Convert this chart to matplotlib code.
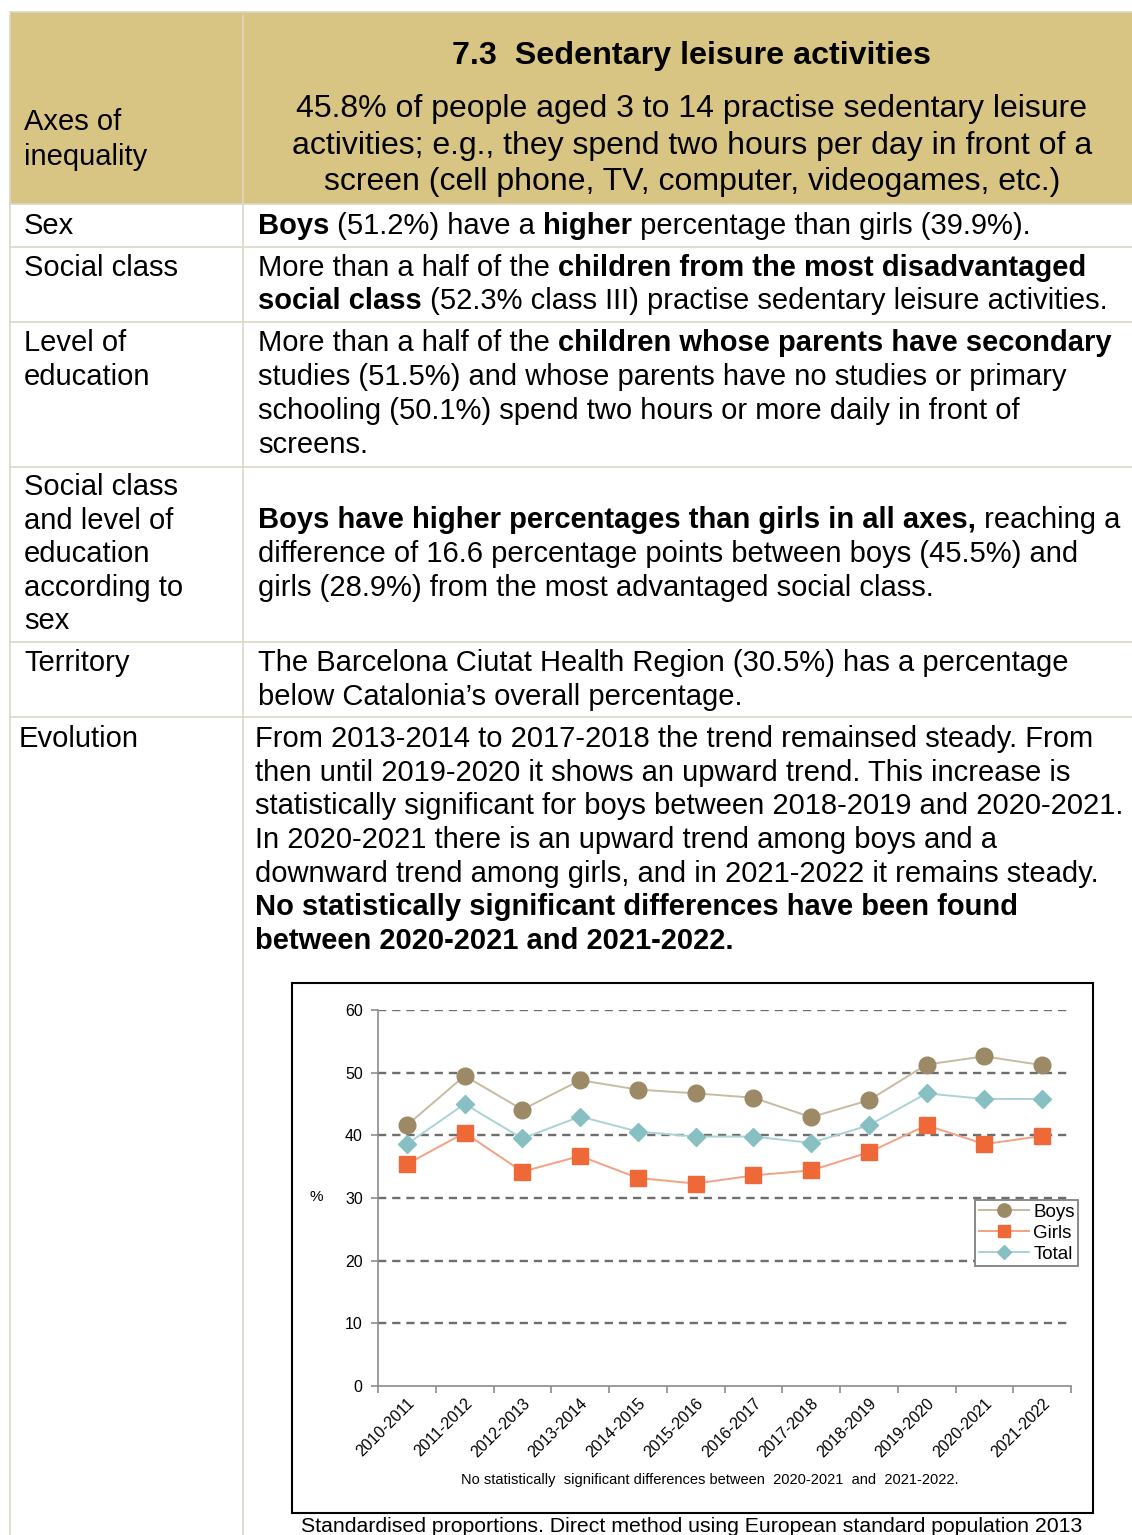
import matplotlib
matplotlib.use("Agg")
import matplotlib.pyplot as plt
from matplotlib.patches import Rectangle
from matplotlib.lines import Line2D
import numpy as np

plt.rcParams['font.family'] = ['Liberation Sans', 'DejaVu Sans']

# chart data
seasons = ['2010-2011', '2011-2012', '2012-2013', '2013-2014', '2014-2015', '2015-2016',
           '2016-2017', '2017-2018', '2018-2019', '2019-2020', '2020-2021', '2021-2022']
boys = [41.6, 49.5, 44.1, 48.8, 47.3, 46.7, 46.0, 42.9, 45.6, 51.3, 52.6, 51.2]
girls = [35.4, 40.4, 34.2, 36.7, 33.2, 32.3, 33.6, 34.4, 37.3, 41.6, 38.6, 39.9]
total = [38.6, 45.0, 39.5, 43.0, 40.6, 39.8, 39.8, 38.8, 41.6, 46.7, 45.8, 45.8]
y_ticks = [0, 10, 20, 30, 40, 50, 60]

W, H = 1132, 1535
TAN = '#D8C483'
RULE = '#DCD8C6'
FS = 21

fig = plt.figure(figsize=(W / 100, H / 100), dpi=100)
renderer = fig.canvas.get_renderer()


def fx(x):
    return x / W


def fy(y):
    return 1 - y / H


def text_width(s, bold, size):
    # measure with bars around so spaces are counted
    t = fig.text(0, 0, '|' + s + '|', fontsize=size, fontweight='bold' if bold else 'normal')
    t2 = fig.text(0, 0, '||', fontsize=size, fontweight='bold' if bold else 'normal')
    w = t.get_window_extent(renderer).width - t2.get_window_extent(renderer).width
    t.remove()
    t2.remove()
    return w


def rich_line(x, y, parts, size=FS):
    cx = x
    for s, bold in parts:
        fig.text(fx(cx), fy(y), s, fontsize=size, fontweight='bold' if bold else 'normal',
                 ha='left', va='center', color='black')
        cx += text_width(s, bold, size)


def plain(x, y, s, size=FS, bold=False, ha='left'):
    fig.text(fx(x), fy(y), s, fontsize=size, fontweight='bold' if bold else 'normal',
             ha=ha, va='center', color='black')


# ---- table frame ----
fig.add_artist(Rectangle((fx(10), fy(204)), (W - 10) / W, 192 / H, transform=fig.transFigure,
                         facecolor=TAN, edgecolor='none', zorder=-2))
fig.add_artist(Line2D([fx(10), 1], [fy(11.5), fy(11.5)], transform=fig.transFigure, color=RULE, lw=1.2))
for yy in [204, 247, 322, 467, 642, 717]:
    fig.add_artist(Line2D([fx(10), 1], [fy(yy), fy(yy)], transform=fig.transFigure, color=RULE, lw=1.2))
fig.add_artist(Line2D([fx(243), fx(243)], [fy(16), fy(H)], transform=fig.transFigure, color=RULE, lw=1.2))
fig.add_artist(Line2D([fx(10), fx(10)], [fy(16), fy(H)], transform=fig.transFigure, color=RULE, lw=1.2))

# ---- header ----
plain(24, 122, 'Axes of')
plain(24, 157, 'inequality')
plain(692, 56, '7.3  Sedentary leisure activities', size=23.2, bold=True, ha='center')
plain(692, 109, '45.8% of people aged 3 to 14 practise sedentary leisure', size=23, ha='center')
plain(692, 146, 'activities; e.g., they spend two hours per day in front of a', size=23, ha='center')
plain(692, 182, 'screen (cell phone, TV, computer, videogames, etc.)', size=23, ha='center')

# ---- rows ----
N, B = False, True
plain(24, 226, 'Sex')
rich_line(258, 226, [('Boys', B), (' (51.2%) have a ', N), ('higher', B),
                     (' percentage than girls (39.9%).', N)])

plain(24, 268, 'Social class')
rich_line(258, 268, [('More than a half of the ', N), ('children from the most disadvantaged', B)])
rich_line(258, 301, [('social class', B), (' (52.3% class III) practise sedentary leisure activities.', N)])

plain(24, 343, 'Level of')
plain(24, 377, 'education')
rich_line(258, 343, [('More than a half of the ', N), ('children whose parents have secondary', B)])
plain(258, 377, 'studies (51.5%) and whose parents have no studies or primary')
plain(258, 411, 'schooling (50.1%) spend two hours or more daily in front of')
plain(258, 445, 'screens.')

for i, s in enumerate(['Social class', 'and level of', 'education', 'according to', 'sex']):
    plain(24, 487 + i * 33.6, s)
rich_line(258, 520, [('Boys have higher percentages than girls in all axes,', B), (' reaching a', N)])
plain(258, 554, 'difference of 16.6 percentage points between boys (45.5%) and')
plain(258, 588, 'girls (28.9%) from the most advantaged social class.')

plain(24, 663, 'Territory')
plain(258, 663, 'The Barcelona Ciutat Health Region (30.5%) has a percentage')
plain(258, 697, 'below Catalonia\u2019s overall percentage.')

plain(19, 739, 'Evolution')
evo = ['From 2013-2014 to 2017-2018 the trend remainsed steady. From',
       'then until 2019-2020 it shows an upward trend. This increase is',
       'statistically significant for boys between 2018-2019 and 2020-2021.',
       'In 2020-2021 there is an upward trend among boys and a',
       'downward trend among girls, and in 2021-2022 it remains steady.']
for i, s in enumerate(evo):
    plain(255, 739 + i * 33.7, s)
plain(255, 907, 'No statistically significant differences have been found', bold=True)
plain(255, 941, 'between 2020-2021 and 2021-2022.', bold=True)

# ---- chart ----
fig.add_artist(Rectangle((fx(292), fy(1513)), (1093 - 292) / W, (1513 - 983) / H,
                         transform=fig.transFigure, facecolor='white', edgecolor='black', lw=1.5, zorder=-1))

ax = fig.add_axes([fx(378), fy(1386), (1071 - 378) / W, (1386 - 1010) / H])
ax.patch.set_alpha(0)
x = np.arange(len(seasons))
ax.plot(x, boys, color='#C9BBA2', lw=1.4, marker='o', ms=12, mfc='#9C8966', mec='#9C8966', label='Boys', zorder=4)
ax.plot(x, girls, color='#F4A183', lw=1.4, marker='s', ms=11.5, mfc='#EF6838', mec='#EF6838', label='Girls', zorder=3)
ax.plot(x, total, color='#A9D3D6', lw=1.4, marker='D', ms=9.5, mfc='#88BFC3', mec='#88BFC3', label='Total', zorder=3)

ax.set_xlim(-0.5, len(seasons) - 0.5)
ax.set_ylim(0, 60)
ax.set_yticks(y_ticks)
ax.yaxis.grid(True, linestyle=(0, (3.5, 2.5)), color='#6E6E6E', lw=1.7)
ax.yaxis.get_gridlines()[0].set_visible(False)
ax.set_axisbelow(True)
ax.set_xticks(np.arange(-0.5, len(seasons), 1))
ax.set_xticklabels([])
ax.set_xticks(x, seasons, minor=True)
ax.tick_params(axis='x', which='major', length=5, color='#8C8C8C', width=1.2)
ax.tick_params(axis='x', which='minor', length=0, labelsize=11.5, labelrotation=45, pad=7)
for lab in ax.get_xticklabels(minor=True):
    lab.set_ha('right')
    lab.set_rotation_mode('anchor')
ax.tick_params(axis='y', length=5, color='#8C8C8C', width=1.2, labelsize=11.5, pad=6)
for side in ['top', 'right']:
    ax.spines[side].set_visible(False)
for side in ['left', 'bottom']:
    ax.spines[side].set_color('#8C8C8C')
    ax.spines[side].set_linewidth(1.2)

fig.text(fx(316), fy(1197), '%', fontsize=11, ha='center', va='center')
leg = ax.legend(loc='upper left', bbox_to_anchor=(fx(975), fy(1200)), bbox_transform=fig.transFigure,
                frameon=True, fancybox=False, edgecolor='#808080', framealpha=1, fontsize=13.5, borderpad=0.2,
                labelspacing=0.2, handlelength=2.7, handletextpad=0.2, borderaxespad=0, markerscale=0.8)
leg.get_frame().set_linewidth(1.3)

fig.text(fx(710), fy(1480), 'No statistically  significant differences between  2020-2021  and  2021-2022.',
         fontsize=10.5, ha='center', va='center')
fig.text(fx(692), fy(1527), 'Standardised proportions. Direct method using European standard population 2013',
         fontsize=15.3, ha='center', va='center')

fig.savefig('out.png', dpi=100)
